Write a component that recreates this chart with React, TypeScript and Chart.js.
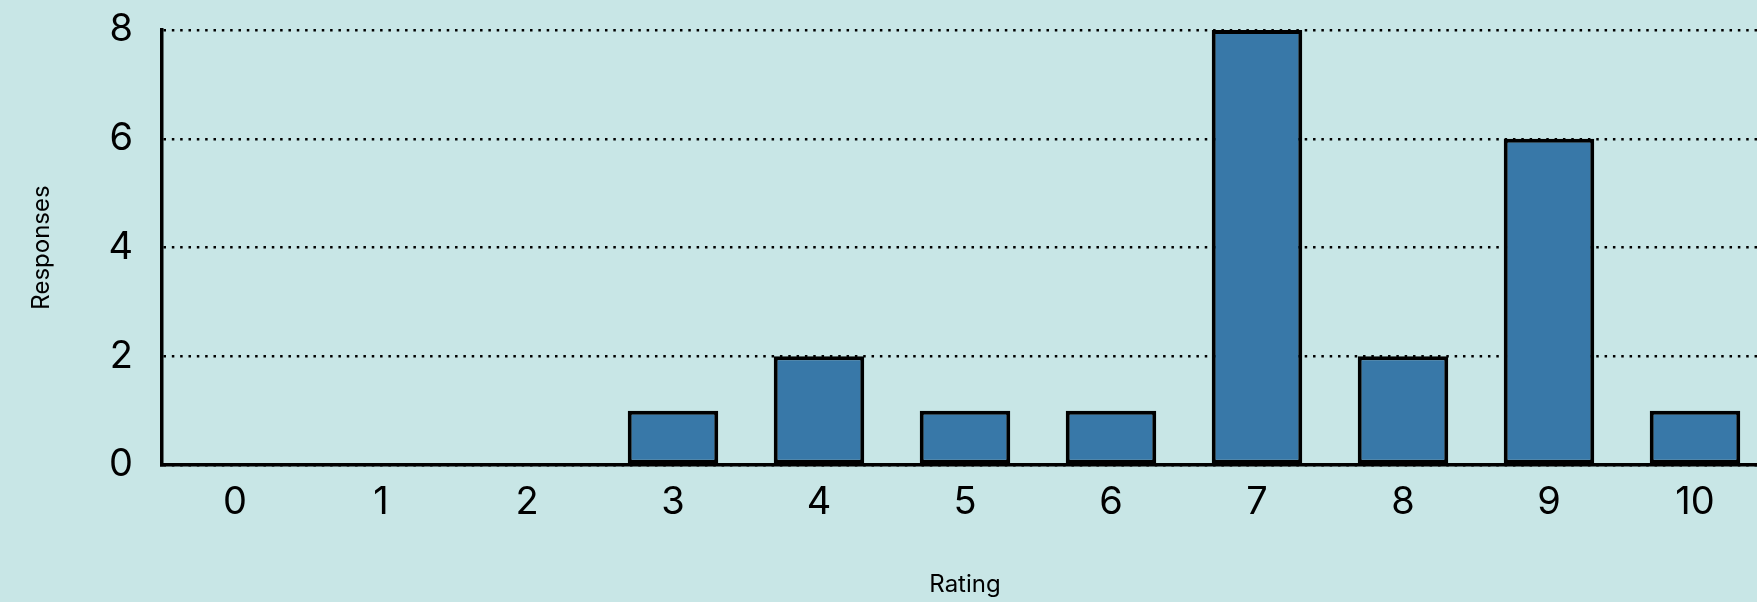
import React, { useEffect, useRef } from "react";
import { Chart, registerables } from "chart.js";

Chart.register(...registerables);

const categories: string[] = ["0", "1", "2", "3", "4", "5", "6", "7", "8", "9", "10"];
const responses: number[] = [0, 0, 0, 1, 2, 1, 1, 8, 2, 6, 1];
const yTicks: number[] = [0, 2, 4, 6, 8];
const xTitle = "Rating";
const yTitle = "Responses";

const BG = "#c8e6e6";
const BAR = "#3878a8";
const FONT = "Inter, 'Noto Sans', sans-serif";

export default function App() {
  const ref = useRef<HTMLCanvasElement | null>(null);

  useEffect(() => {
    document.body.style.margin = "0";
    document.body.style.background = BG;
    const canvas = ref.current;
    if (!canvas) return;
    const chart = new Chart(canvas, {
      type: "bar",
      data: {
        labels: categories,
        datasets: [
          {
            data: responses,
            backgroundColor: BAR,
            borderColor: "#000000",
            borderWidth: 4,
            borderSkipped: false,
            barPercentage: 0.62,
            categoryPercentage: 1,
          },
        ],
      },
      options: {
        responsive: false,
        animation: false,
        layout: { padding: { top: 30, right: 2, left: 0, bottom: 0 } },
        plugins: {
          legend: { display: false },
          tooltip: { enabled: false },
        },
        scales: {
          x: {
            grid: { display: false, drawTicks: false },
            border: { display: true, color: "#000000", width: 3.5 },
            ticks: {
              color: "#000000",
              font: { family: FONT, size: 38 },
              padding: 15,
              maxRotation: 0,
            },
            title: {
              display: true,
              text: xTitle,
              color: "#000000",
              font: { family: FONT, size: 24 },
              padding: { top: 0, bottom: 3 },
            },
            afterFit: (scale: any) => {
              scale.height = 137;
              scale.paddingLeft = 0;
              scale.paddingRight = 0;
            },
          },
          y: {
            min: 0,
            max: 8,
            afterBuildTicks: (scale: any) => {
              scale.ticks = yTicks.map((v) => ({ value: v }));
            },
            grid: {
              color: "#000000",
              lineWidth: 2.5,
              drawTicks: false,
            },
            border: { display: true, color: "#000000", width: 3.5, dash: [2.5, 5.83] },
            ticks: {
              color: "#000000",
              font: { family: FONT, size: 38 },
              padding: 29,
            },
            title: {
              display: true,
              text: yTitle,
              color: "#000000",
              font: { family: FONT, size: 24 },
              padding: { top: 27, bottom: 0 },
            },
            afterFit: (scale: any) => {
              scale.width = 162;
              scale.paddingTop = 0;
              scale.paddingBottom = 0;
            },
          },
        },
      },
    });
    return () => chart.destroy();
  }, []);

  return (
    <div style={{ width: 1757, height: 602, overflow: "hidden", background: BG }}>
      <canvas ref={ref} width={1770} height={602} style={{ display: "block" }} />
    </div>
  );
}
